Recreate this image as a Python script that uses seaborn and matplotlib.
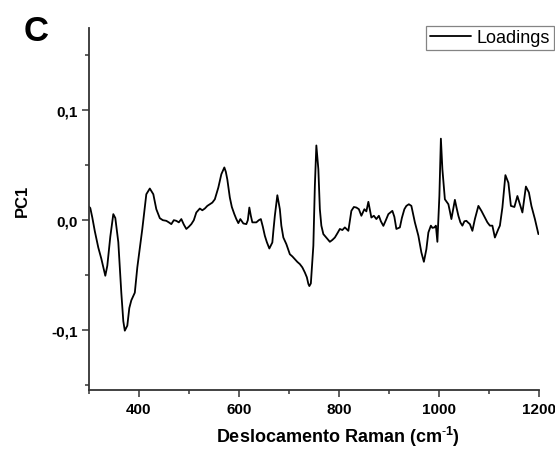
import numpy as np
import pandas as pd
import matplotlib
matplotlib.use('Agg')
import matplotlib.pyplot as plt
from matplotlib.ticker import FixedLocator, FuncFormatter
import seaborn as sns

# ==========================================
# Dados (PC1 loadings)
# ==========================================
raman_shift = [300, 303, 307, 312, 319, 325, 333, 337, 343, 349, 353, 359, 365, 369, 372, 377,
               381, 385, 392, 397, 407, 415, 422, 429, 435, 442, 448, 455, 460, 465, 470, 475,
               480, 485, 490, 495, 500, 505, 510, 515, 522, 527, 532, 537, 542, 547, 552, 559,
               565, 571, 574, 577, 582, 586, 591, 595, 599, 603, 609, 615, 618, 621, 624, 627,
               635, 640, 644, 648, 652, 656, 661, 667, 669, 672, 677, 682, 685, 689, 695, 702,
               707, 712, 717, 722, 727, 732, 736, 739, 741, 744, 749, 752, 755, 759, 762, 765,
               769, 775, 782, 787, 792, 797, 802, 807, 812, 819, 825, 830, 835, 840, 845, 851,
               855, 859, 865, 870, 875, 880, 884, 889, 894, 899, 907, 911, 915, 922, 926, 931,
               935, 940, 945, 952, 959, 965, 970, 975, 979, 984, 987, 991, 994, 997, 1001, 1004,
               1007, 1012, 1019, 1022, 1025, 1032, 1035, 1039, 1043, 1047, 1051, 1055, 1058, 1062,
               1067, 1072, 1079, 1085, 1092, 1097, 1102, 1107, 1112, 1119, 1122, 1127, 1133, 1139,
               1144, 1151, 1157, 1162, 1167, 1174, 1180, 1185, 1192, 1199]
pc1 = [0.0125, 0.011, 0.0024, -0.010, -0.025, -0.035, -0.0506, -0.0415, -0.015, 0.0055, 0.002,
       -0.020, -0.066, -0.092, -0.1006, -0.096, -0.080, -0.073, -0.066, -0.043, -0.008, 0.0236,
       0.0288, 0.0236, 0.010, 0.0018, 0.000, -0.0006, -0.002, -0.0036, 0.000, -0.0006, -0.002,
       0.001, -0.004, -0.008, -0.006, -0.0036, 0.000, 0.007, 0.0106, 0.009, 0.0106, 0.013,
       0.0145, 0.016, 0.019, 0.0297, 0.0418, 0.048, 0.044, 0.037, 0.0206, 0.012, 0.0055,
       0.001, -0.0027, 0.001, -0.003, -0.0036, 0.000, 0.0115, 0.004, -0.002, -0.002, 0.000,
       0.001, -0.006, -0.0142, -0.020, -0.0258, -0.0203, -0.010, 0.004, 0.0227, 0.010, -0.005,
       -0.0158, -0.0218, -0.031, -0.033, -0.0355, -0.038, -0.040, -0.043, -0.0476, -0.052,
       -0.058, -0.060, -0.0576, -0.0233, 0.031, 0.068, 0.0464, 0.010, -0.005, -0.0127, -0.016,
       -0.0197, -0.018, -0.0158, -0.012, -0.008, -0.009, -0.0066, -0.0097, 0.0085, 0.012,
       0.0115, 0.010, 0.004, 0.010, 0.008, 0.0167, 0.0024, 0.004, 0.001, 0.004, -0.001,
       -0.0052, 0.000, 0.0055, 0.0085, 0.003, -0.008, -0.0066, 0.002, 0.010, 0.013, 0.0145,
       0.013, -0.002, -0.0142, -0.0294, -0.0379, -0.0264, -0.0112, -0.005, -0.007, -0.0066,
       -0.005, -0.0197, 0.022, 0.0742, 0.0464, 0.019, 0.0145, 0.008, 0.001, 0.0185, 0.012,
       0.004, -0.002, -0.005, -0.001, -0.0006, -0.002, -0.0036, -0.0097, 0.001, 0.013, 0.0085,
       0.0024, -0.002, -0.005, -0.005, -0.0158, -0.008, -0.005, 0.0115, 0.041, 0.034, 0.013,
       0.012, 0.022, 0.0145, 0.007, 0.0306, 0.0252, 0.013, 0.001, -0.0127]

x_major = [400, 600, 800, 1000, 1200]
x_minor = [300, 500, 700, 900, 1100]
y_major = [-0.1, 0.0, 0.1]
y_minor = [-0.15, -0.05, 0.05, 0.15]

df = pd.DataFrame({'Raman': raman_shift, 'PC1': pc1})

# ==========================================
# Estilo
# ==========================================
sns.set_style('ticks')
plt.rcParams['font.family'] = ['Liberation Sans', 'DejaVu Sans']
plt.rcParams['mathtext.fontset'] = 'custom'
plt.rcParams['mathtext.rm'] = 'Liberation Sans'
plt.rcParams['mathtext.bf'] = 'Liberation Sans:bold'
plt.rcParams['text.color'] = 'black'
plt.rcParams['axes.labelcolor'] = 'black'
plt.rcParams['xtick.labelcolor'] = 'black'
plt.rcParams['ytick.labelcolor'] = 'black'

fig = plt.figure(figsize=(5.55, 4.52), dpi=100)
ax = fig.add_axes([0.160, 0.134, 0.811, 0.802])

sns.lineplot(data=df, x='Raman', y='PC1', ax=ax, color='black', linewidth=1.3,
             label='Loadings')

ax.set_xlim(300, 1200)
ax.set_ylim(-0.155, 0.175)

ax.xaxis.set_major_locator(FixedLocator(x_major))
ax.xaxis.set_minor_locator(FixedLocator(x_minor))
ax.yaxis.set_major_locator(FixedLocator(y_major))
ax.yaxis.set_minor_locator(FixedLocator(y_minor))
ax.yaxis.set_major_formatter(FuncFormatter(lambda v, p: f'{v:.1f}'.replace('.', ',').replace('-0,0', '0,0')))

ax.tick_params(which='major', direction='out', length=5, width=1.1, color='#333333',
               labelsize=11, pad=3)
ax.tick_params(which='minor', direction='out', length=3, width=1.1, color='#333333')
for lab in ax.get_xticklabels() + ax.get_yticklabels():
    lab.set_fontweight('bold')

sns.despine(ax=ax)
for side in ['left', 'bottom']:
    ax.spines[side].set_linewidth(1.3)
    ax.spines[side].set_color('#333333')

ax.set_xlabel('Deslocamento Raman (cm$^{\\mathbf{\\text{-}1}}$)', fontsize=13, fontweight='bold')
ax.xaxis.set_label_coords(0.553, -0.093)
ax.xaxis.label.set_va('top')
ax.set_ylabel('PC1', fontsize=12, fontweight='bold')
ax.yaxis.set_label_coords(-0.132, 0.526)

leg = ax.legend(loc='upper right', bbox_to_anchor=(1.033, 1.006), fontsize=13, frameon=True,
                fancybox=False, handlelength=2.3, handletextpad=0.3, borderpad=0.2,
                borderaxespad=0.0)
leg.get_frame().set_edgecolor('#666666')
leg.get_frame().set_linewidth(0.9)

fig.text(0.043, 0.930, 'C', fontsize=25, fontweight='bold', ha='left', va='center')

fig.savefig('out.png', dpi=100)
